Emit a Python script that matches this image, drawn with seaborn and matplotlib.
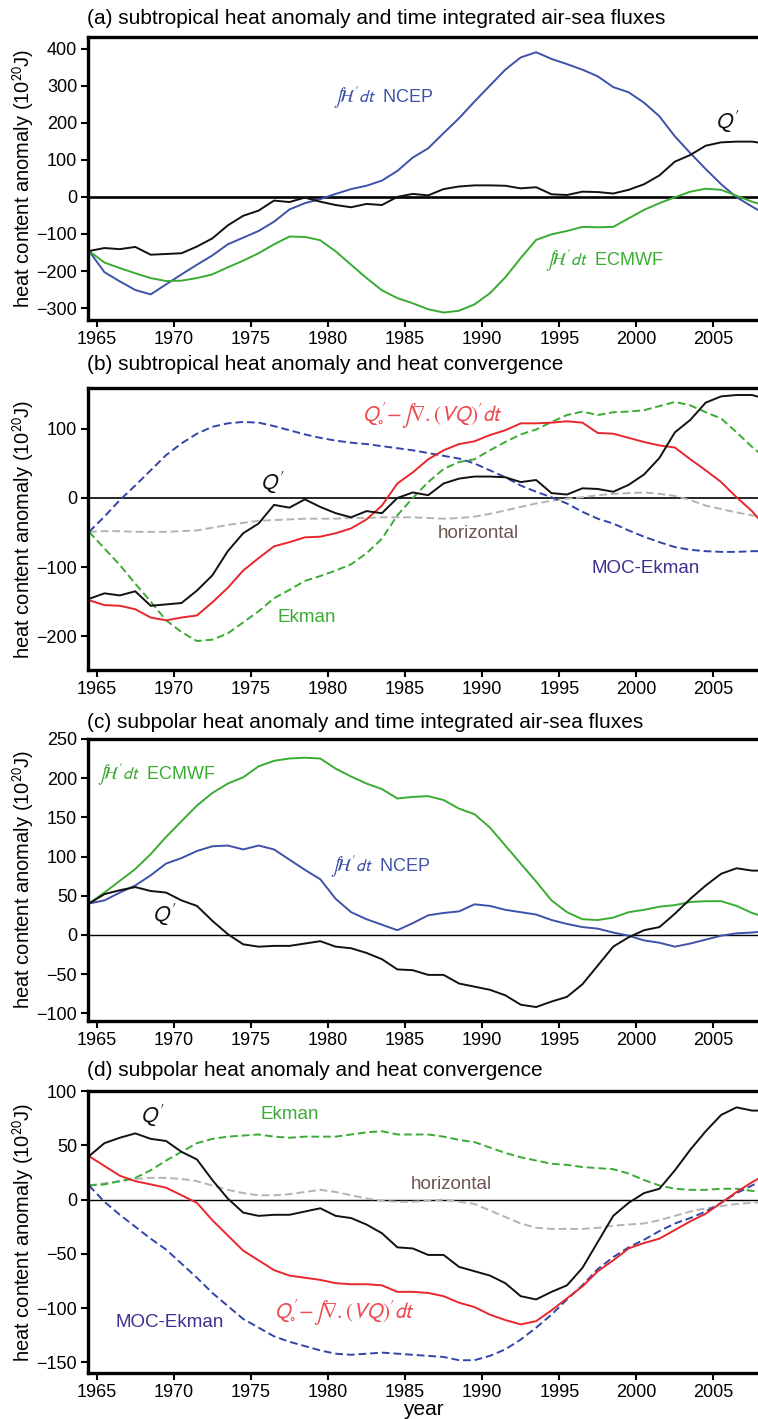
import numpy as np
import pandas as pd
import matplotlib
matplotlib.use("Agg")
import matplotlib.pyplot as plt
import seaborn as sns

# ---------------------------------------------------------------- data
years = np.arange(1964.5, 2009.0, 1.0)

# (a) subtropical heat content and time-integrated air-sea fluxes
q_subtrop = [-146, -138, -141, -135, -156, -154, -152, -134, -112, -77, -51, -37, -10, -14, -2,
             -13, -22, -28, -19, -22, 0,
             8, 4, 21, 28, 31, 31, 30, 23, 26, 7, 5, 14, 13, 9, 19, 34, 58, 95, 113, 138, 147,
             149, 149, 143]
ncep_subtrop = [-146, -203, -228, -251, -263, -236, -209, -183, -158, -128, -110, -92, -67, -34,
                -17, -6, 8, 21, 30, 44, 70,
                106, 131, 172, 212, 257, 300, 343, 376, 390, 372, 358, 343, 325, 296, 282, 254,
                217, 163, 118, 75, 34, -1, -26, -50]
ecmwf_subtrop = [-146, -177, -192, -206, -219, -227, -226, -219, -209, -190, -172, -152, -128,
                 -107, -108, -117, -147, -183, -219, -252, -273,
                 -287, -303, -312, -307, -290, -260, -217, -165, -116, -101, -92, -81, -82, -81,
                 -58, -35, -17, -1, 14, 22, 19, 3, -13, -25]

# (b) subtropical heat convergence terms
conv_subtrop = [-148, -155, -156, -161, -173, -177, -173, -170, -151, -130, -105, -87, -70, -64,
                -57, -56, -51, -44, -31, -11, 21,
                37, 56, 69, 78, 82, 91, 98, 108, 108, 109, 111, 109, 94, 93, 87, 81, 76, 73, 56,
                40, 23, 1, -19, -45]
ekman_subtrop = [-49, -73, -97, -124, -150, -177, -194, -207, -205, -196, -180, -164, -145, -133,
                 -120, -113, -105, -96, -80, -59, -25,
                 0, 23, 42, 52, 56, 69, 81, 92, 99, 110, 120, 125, 120, 124, 125, 127, 133, 139,
                 134, 124, 115, 95, 74, 55]
moc_subtrop = [-49, -27, -3, 18, 40, 62, 79, 93, 103, 108, 110, 109, 104, 98, 92, 87, 83, 80, 78,
               75, 72,
               69, 65, 61, 57, 50, 40, 30, 18, 9, 1, -8, -20, -30, -37, -47, -56, -64, -71, -75,
               -77, -78, -78, -77, -77]
horiz_subtrop = [-49, -48, -48, -49, -49, -49, -48, -47, -43, -39, -36, -33, -32, -31, -30, -30,
                 -30, -29, -29, -28, -28,
                 -28, -29, -30, -29, -27, -23, -18, -13, -8, -4, -1, 1, 4, 6, 7, 8, 6, 3, -3,
                 -11, -16, -21, -25, -28]

# (c) subpolar heat content and time-integrated air-sea fluxes
q_subpol = [40, 52, 57, 61, 56, 54, 44, 37, 18, 1, -12, -15, -14, -14, -11, -8, -15, -17, -23,
            -31, -44,
            -45, -51, -51, -62, -66, -70, -77, -89, -92, -85, -79, -63, -39, -15, -3, 6, 10, 27,
            46, 63, 78, 85, 82, 82]
ecmwf_subpol = [40, 54, 69, 84, 103, 125, 145, 165, 181, 193, 201, 215, 222, 225, 226, 225, 212,
                202, 193, 186, 174,
                176, 177, 172, 161, 154, 137, 114, 91, 68, 44, 29, 20, 19, 22, 29, 32, 36, 38,
                42, 43, 43, 37, 28, 22]
ncep_subpol = [40, 44, 54, 63, 76, 91, 98, 107, 113, 114, 109, 114, 109, 96, 83, 71, 46, 29, 20,
               13, 6,
               15, 25, 28, 30, 39, 37, 32, 29, 26, 19, 14, 10, 8, 3, -1, -7, -10, -15, -11, -6,
               -1, 2, 3, 5]

# (d) subpolar heat convergence terms
conv_subpol = [40, 31, 22, 17, 14, 11, 4, -3, -19, -33, -47, -56, -65, -70, -72, -74, -77, -78,
               -78, -79, -85,
               -85, -86, -89, -95, -99, -106, -111, -115, -112, -102, -91, -80, -66, -56, -45,
               -40, -36, -28, -20, -13, -3, 7, 16, 24]
ekman_subpol = [13, 14, 17, 20, 27, 36, 44, 52, 56, 58, 59, 60, 58, 57, 58, 58, 58, 60, 62, 63,
                60,
                60, 60, 58, 55, 53, 48, 43, 39, 36, 33, 32, 30, 29, 28, 24, 18, 13, 10, 9, 9, 10,
                10, 8, 7]
horiz_subpol = [13, 15, 17, 19, 20, 20, 19, 17, 13, 9, 6, 4, 4, 5, 7, 9, 7, 4, 1, -1, -2,
                -2, -1, 0, -2, -4, -10, -16, -22, -26, -27, -27, -27, -26, -24, -23, -22, -19,
                -15, -11, -8, -6, -4, -3, -2]
moc_subpol = [13, -2, -14, -25, -36, -46, -59, -72, -86, -98, -110, -118, -126, -131, -135, -139,
              -142, -143, -142, -141, -142,
              -143, -144, -145, -148, -148, -144, -138, -129, -118, -106, -92, -79, -64, -53,
              -44, -37, -29, -22, -17, -11, -3, 6, 13, 20]

year_ticks = [1965, 1970, 1975, 1980, 1985, 1990, 1995, 2000, 2005]

# ---------------------------------------------------------------- style
sns.set_style("ticks")
plt.rcParams["font.family"] = ["Liberation Sans", "DejaVu Sans"]
plt.rcParams["mathtext.fontset"] = "stixsans"
plt.rcParams["text.color"] = "black"
plt.rcParams["axes.labelcolor"] = "black"
plt.rcParams["xtick.color"] = "black"
plt.rcParams["ytick.color"] = "black"

BLACK = "#111111"
BLUE = "#3f51a8"
DBLUE = "#3345a6"
GREEN = "#3aab33"
RED = "#e8262c"
GREY = "#b3b3b3"
BROWN = "#6e5551"
INDIGO = "#3b2f90"
LABEL_RED = "#ea4a50"

FLUX = r"$\int\!\mathcal{H}^{\prime}dt$"
CONV = r"$Q^{\prime}_{\circ}\!-\!\int\!\nabla.(VQ)^{\prime}dt$"
QP = r"$Q^{\prime}$"

fig = plt.figure(figsize=(7.58, 14.19), dpi=100)
L, W = 0.1165, 0.8835
axes = [fig.add_axes([L, 0.7745, W, 0.1994]),
        fig.add_axes([L, 0.5278, W, 0.1987]),
        fig.add_axes([L, 0.2807, W, 0.1987]),
        fig.add_axes([L, 0.0324, W, 0.1987])]


def line(ax, vals, color, dashed=False, lw=1.4):
    df = pd.DataFrame({"year": years, "value": vals})
    sns.lineplot(data=df, x="year", y="value", ax=ax, color=color, lw=lw,
                 linestyle=(0, (4, 2)) if dashed else "-")


def frame(ax, ylim, yticks, title, title_y, zero_lw):
    ax.axhline(0, color="black", lw=zero_lw, zorder=1)
    ax.set_xlim(1964.455, 2007.89)
    ax.set_ylim(*ylim)
    ax.set_yticks(yticks)
    ax.set_xticks(year_ticks)
    ax.tick_params(direction="out", length=5, width=1.5, labelsize=13, pad=3,
                   colors="black")
    for s in ["left", "top", "bottom"]:
        ax.spines[s].set_linewidth(2.4)
        ax.spines[s].set_color("black")
    ax.spines["right"].set_visible(False)
    ax.set_xlabel("")
    ax.set_ylabel(r"heat content anomaly (10$^{20}$J)", fontsize=14.5, color="black")
    ax.yaxis.set_label_coords(-0.077, 0.5)
    ax.text(-0.002, title_y, title, transform=ax.transAxes, fontsize=15,
            ha="left", va="center", color="black")


# (a)
ax = axes[0]
line(ax, ncep_subtrop, BLUE)
line(ax, ecmwf_subtrop, GREEN)
line(ax, q_subtrop, BLACK)
frame(ax, (-332, 431), [-300, -200, -100, 0, 100, 200, 300, 400],
      "(a) subtropical heat anomaly and time integrated air-sea fluxes", 1.067, 1.9)
ax.text(1980.3, 267, FLUX + "  NCEP", color=BLUE, fontsize=13, ha="left", va="center")
ax.text(1994.1, -175, FLUX + "  ECMWF", color=GREEN, fontsize=13, ha="left", va="center")
ax.text(2005.1, 202, QP, color=BLACK, fontsize=16, ha="left", va="center")

# (b)
ax = axes[1]
line(ax, horiz_subtrop, GREY, dashed=True)
line(ax, moc_subtrop, DBLUE, dashed=True)
line(ax, ekman_subtrop, GREEN, dashed=True)
line(ax, conv_subtrop, RED)
line(ax, q_subtrop, BLACK)
frame(ax, (-249, 159), [-200, -100, 0, 100],
      "(b) subtropical heat anomaly and heat convergence", 1.082, 1.2)
ax.text(1982.2, 119, CONV, color=LABEL_RED, fontsize=15.5, ha="left", va="center")
ax.text(1975.6, 22, QP, color=BLACK, fontsize=16, ha="left", va="center")
ax.text(1987.1, -51, "horizontal", color=BROWN, fontsize=13.5, ha="left", va="center")
ax.text(1997.1, -102, "MOC-Ekman", color=INDIGO, fontsize=13.5, ha="left", va="center")
ax.text(1976.7, -173, "Ekman", color=GREEN, fontsize=13.5, ha="left", va="center")

# (c)
ax = axes[2]
line(ax, ecmwf_subpol, GREEN)
line(ax, ncep_subpol, BLUE)
line(ax, q_subpol, BLACK)
frame(ax, (-109.4, 250.2), [-100, -50, 0, 50, 100, 150, 200, 250],
      "(c) subpolar heat anomaly and time integrated air-sea fluxes", 1.057, 1.0)
ax.text(1965.0, 203, FLUX + "  ECMWF", color=GREEN, fontsize=13, ha="left", va="center")
ax.text(1980.1, 86, FLUX + "  NCEP", color=BLUE, fontsize=13, ha="left", va="center")
ax.text(1968.6, 25, QP, color=BLACK, fontsize=16, ha="left", va="center")

# (d)
ax = axes[3]
line(ax, horiz_subpol, GREY, dashed=True)
line(ax, ekman_subpol, GREEN, dashed=True)
line(ax, moc_subpol, DBLUE, dashed=True)
line(ax, conv_subpol, RED)
line(ax, q_subpol, BLACK)
frame(ax, (-159.8, 99.4), [-150, -100, -50, 0, 50, 100],
      "(d) subpolar heat anomaly and heat convergence", 1.074, 1.0)
ax.text(1967.8, 77, QP, color=BLACK, fontsize=16, ha="left", va="center")
ax.text(1975.6, 78, "Ekman", color=GREEN, fontsize=13.5, ha="left", va="center")
ax.text(1985.4, 14, "horizontal", color=BROWN, fontsize=13.5, ha="left", va="center")
ax.text(1966.2, -113, "MOC-Ekman", color=INDIGO, fontsize=13.5, ha="left", va="center")
ax.text(1976.5, -104, CONV, color=LABEL_RED, fontsize=15.5, ha="left", va="center")
ax.set_xlabel("year", fontsize=15, labelpad=-1, color="black")

fig.savefig("out.png", dpi=100)
